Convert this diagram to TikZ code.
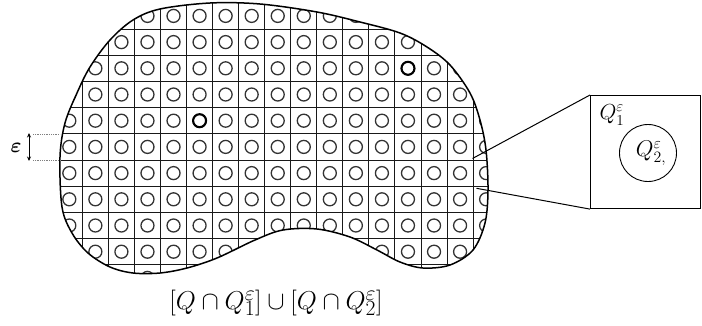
\documentclass[tikz,border=0pt]{standalone}
\usepackage{fix-cm}
\usepackage{bm}
\usepackage{graphicx}
\usetikzlibrary{arrows.meta}
\begin{document}
\begin{tikzpicture}[x=1pt,y=-1pt,
  outline/.style={line width=1.5pt, black},
  gridline/.style={line width=1.0pt, black!90},
  cellcirc/.style={line width=1.3pt, black!80},
  boldcirc/.style={line width=2.1pt, black},
  zoomline/.style={line width=1pt, black},
  helpline/.style={line width=0.8pt, black!50, densely dotted},
  bigtext/.style={font=\fontsize{24.88}{30}\selectfont, inner sep=0pt},
  boxtext/.style={font=\fontsize{20.74}{25}\selectfont, inner sep=0pt},
  epstext/.style={font=\fontsize{20.74}{24}\selectfont, inner sep=0pt}]
\useasboundingbox (0,0) rectangle (702,325);
\path[save path=\blobsaved] plot[smooth cycle, tension=0.55] coordinates {
  (60,157) (65,123) (77,93) (90,67) (110,40) (133,20) (160,9) (210,3) (260,4)
  (317,12) (360,22) (400,33) (427,47) (450,65) (470,93) (480,120) (486,150)
  (488,190) (485,223) (473,250) (450,265) (423,268) (400,262) (377,250)
  (350,237) (317,229) (283,230) (255,240) (217,258) (187,268) (160,273)
  (133,273) (110,267) (88,253) (72,233) (62,207)};
\begin{scope}
  \clip[use path=\blobsaved];
  \foreach \i in {0,...,16}{
    \foreach \j in {0,...,10}{
      \draw[cellcirc] ({56.3+26.05*(\i+0.5)},{2.8+26.2*(\j+0.5)}) circle[radius=6.5];
    }
  }
  \draw[boldcirc] ({56.3+26.05*5.5},{2.8+26.2*4.5}) circle[radius=6.5];
  \draw[boldcirc] ({56.3+26.05*13.5},{2.8+26.2*2.5}) circle[radius=6.5];
  \foreach \i in {0,...,17}{
    \draw[gridline] ({56.3+26.05*\i},0) -- ({56.3+26.05*\i},300);
  }
  \foreach \j in {0,...,11}{
    \draw[gridline] (40,{2.8+26.2*\j}) -- (520,{2.8+26.2*\j});
  }
\end{scope}
\draw[outline, use path=\blobsaved];

% epsilon marker
\coordinate (etop) at (29,133);
\coordinate (ebot) at (29,161);
\coordinate (dtl) at (33,134);
\coordinate (dtr) at (60,134);
\coordinate (dbl) at (33,160.5);
\coordinate (dbr) at (61,160.5);
\draw[helpline] (dtl) -- (dtr);
\draw[helpline] (dbl) -- (dbr);
\draw[line width=0.9pt, {Stealth[length=4.5pt,width=4pt]}-{Stealth[length=4.5pt,width=4pt]}] (etop) -- (ebot);
\node[epstext] (eps) at (16,148) {$\bm{\varepsilon}$};

% zoom box
\node[draw, line width=1.1pt, minimum width=110pt, minimum height=113pt, inner sep=0pt, anchor=north west] (zoombox) at (590,95) {};
\node[draw, circle, line width=0.9pt, minimum size=57pt, inner sep=0pt] (q2) at (648,153) {};
\node[boxtext] (q2lbl) at (651,153) {\scalebox{1.1}{$Q^{\varepsilon}_{2,}$}};
\node[boxtext] (q1lbl) at (612,115) {\scalebox{1.05}{$Q^{\varepsilon}_{1}$}};
\coordinate (za) at (472.5,158.5);
\coordinate (zb) at (476.5,188.3);
\draw[zoomline] (za) -- (zoombox.north west);
\draw[zoomline] (zb) -- (zoombox.south west);

% caption
\node[bigtext] (caption) at (276,303) {\scalebox{1.04}{$[Q\cap Q_1^{\varepsilon}]\cup[Q\cap Q_2^{\varepsilon}]$}};
\end{tikzpicture}
\end{document}
